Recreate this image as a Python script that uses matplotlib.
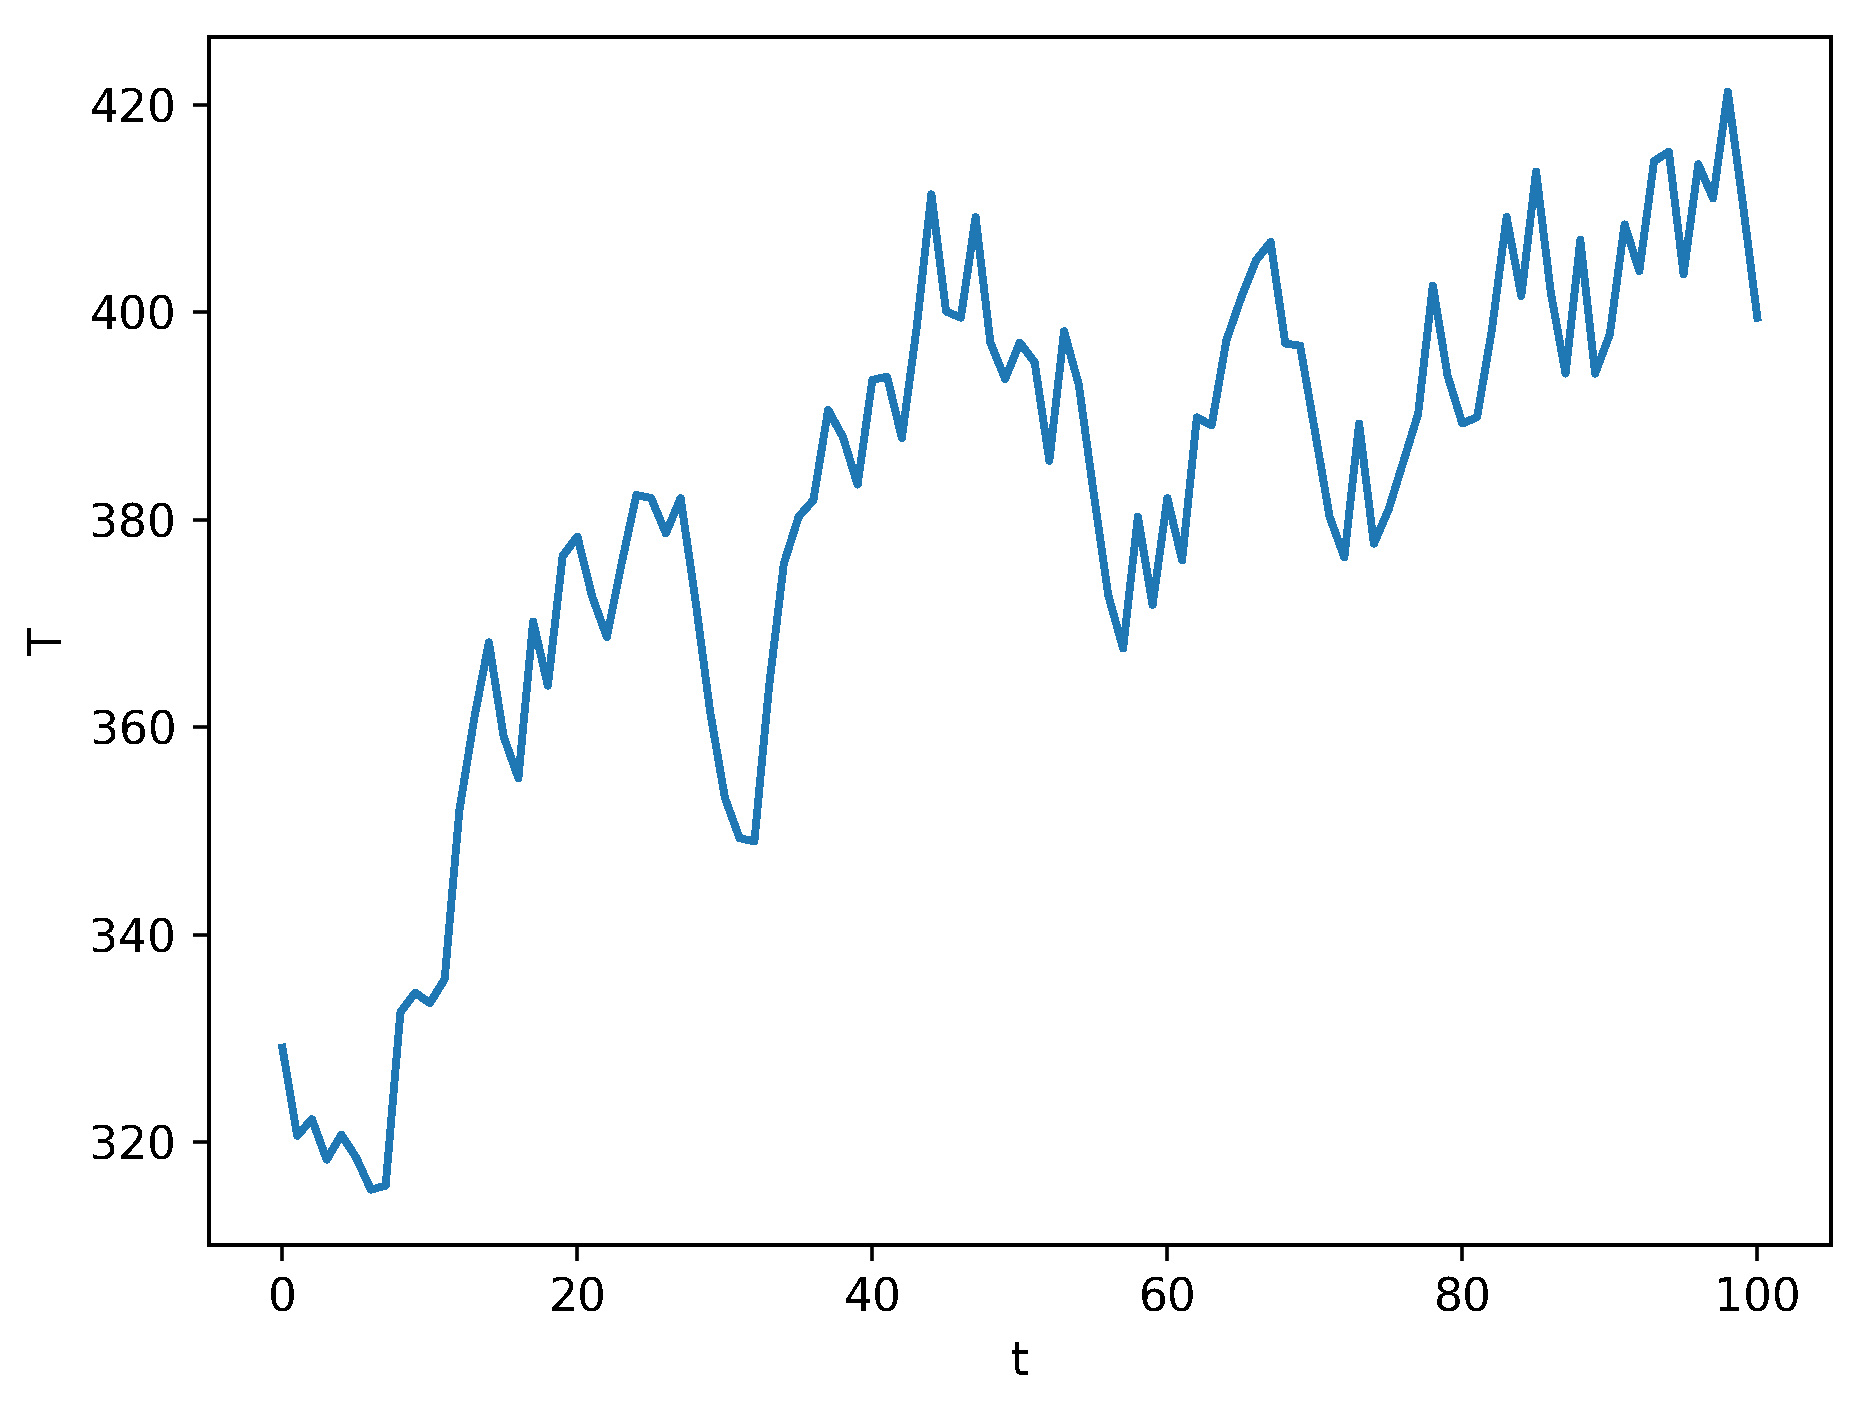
#!/usr/bin/env python3
"""Time series of T against t."""

import matplotlib

matplotlib.use("Agg")
import matplotlib.pyplot as plt
import numpy as np

t = np.arange(0, 101)
T = [
    329.1, 320.6, 322.2, 318.3, 320.7, 318.5, 315.4, 315.8, 332.5, 334.4,
    333.4, 335.7, 352.0, 360.8, 368.2, 359.1, 355.1, 370.2, 364.0, 376.5,
    378.4, 372.6, 368.7, 375.8, 382.4, 382.1, 378.7, 382.1, 372.3, 361.5,
    353.2, 349.3, 349.0, 364.0, 375.8, 380.3, 381.9, 390.6, 388.0, 383.4,
    393.5, 393.8, 387.9, 398.5, 411.4, 400.1, 399.5, 409.2, 397.1, 393.6,
    397.1, 395.2, 385.7, 398.2, 393.0, 382.6, 372.7, 367.6, 380.3, 371.8,
    382.1, 376.1, 389.9, 389.1, 397.3, 401.4, 405.0, 406.8, 397.0, 396.8,
    388.6, 380.3, 376.4, 389.3, 377.7, 381.0, 385.6, 390.2, 402.6, 393.9,
    389.3, 389.9, 398.3, 409.2, 401.6, 413.6, 401.9, 394.1, 407.0, 394.1,
    397.9, 408.5, 404.0, 414.6, 415.5, 403.7, 414.3, 411.0, 421.3, 410.7,
    399.5,
]

# reference is rendered without antialiasing
plt.rcParams["text.antialiased"] = False
plt.rcParams["lines.antialiased"] = False
plt.rcParams["patch.antialiased"] = False

dpi = 328
fig = plt.figure(figsize=(1858 / dpi, 1407 / dpi), dpi=dpi)
ax = fig.add_axes([0.1123, 0.1154, 0.8732, 0.8585])
ax.plot(t, T, color="#1f77b4", linewidth=1.5)
ax.set_xlabel("t")
ax.set_ylabel("T")
fig.savefig("out.png", dpi=dpi)
plt.close(fig)
